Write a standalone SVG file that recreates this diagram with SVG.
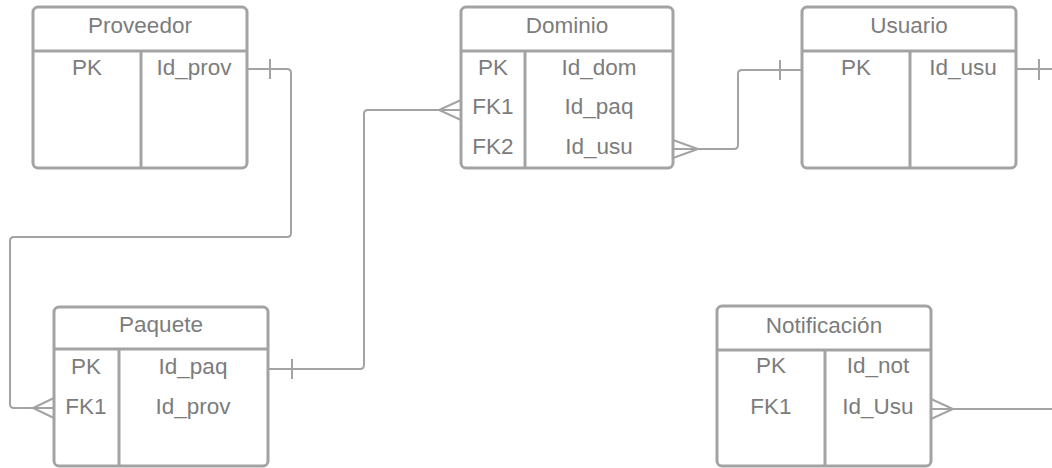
<svg xmlns="http://www.w3.org/2000/svg" width="1052" height="468" viewBox="0 0 1052 468">
<style>
.box{fill:#fff;stroke:#a3a3a3;stroke-width:3}
.ln{fill:none;stroke:#a3a3a3;stroke-width:3}
.cn{fill:none;stroke:#a3a3a3;stroke-width:2}
text{font-family:"Liberation Sans",Arial,sans-serif;font-size:22.5px;fill:#7c7c7c;text-anchor:middle}
</style>
<rect width="1052" height="468" fill="#fff"/>
<g id="connectors">
<path class="cn" d="M247,69 H287 Q291,69 291,73 V233 Q291,237 287,237 H14 Q10,237 10,241 V404 Q10,408 14,408 H54"/>
<path class="cn" d="M270,59 V79 M54,398 L33,408 L54,418"/>
<path class="cn" d="M268,369 H360 Q364,369 364,365 V114 Q364,110 368,110 H461"/>
<path class="cn" d="M292,359 V379 M461,100 L439,110 L461,120"/>
<path class="cn" d="M673,149 H734 Q738,149 738,145 V74 Q738,70 742,70 H802"/>
<path class="cn" d="M673,140 L698,149 L673,158 M780,60 V80"/>
<path class="cn" d="M1016,69 H1052 M1039,59 V80"/>
<path class="cn" d="M931,409 H1052 M931,399 L953,409 L931,419"/>
</g>
<g id="proveedor">
<rect class="box" x="33" y="7" width="214" height="161" rx="5"/>
<path class="ln" d="M33,51 H247 M141,51 V168"/>
<text x="140" y="33">Proveedor</text>
<text x="87" y="75">PK</text>
<text x="194" y="75">Id_prov</text>
</g>
<g id="dominio">
<rect class="box" x="461" y="7" width="212" height="161" rx="5"/>
<path class="ln" d="M461,51 H673 M525,51 V168"/>
<text x="567" y="33">Dominio</text>
<text x="493" y="75">PK</text>
<text x="599" y="75">Id_dom</text>
<text x="493" y="114">FK1</text>
<text x="599" y="114">Id_paq</text>
<text x="493" y="154">FK2</text>
<text x="599" y="154">Id_usu</text>
</g>
<g id="usuario">
<rect class="box" x="802" y="7" width="214" height="161" rx="5"/>
<path class="ln" d="M802,51 H1016 M910,51 V168"/>
<text x="909" y="33">Usuario</text>
<text x="856" y="75">PK</text>
<text x="963" y="75">Id_usu</text>
</g>
<g id="paquete">
<rect class="box" x="54" y="307" width="214" height="159" rx="5"/>
<path class="ln" d="M54,349 H268 M119,349 V466"/>
<text x="161" y="332">Paquete</text>
<text x="86" y="374">PK</text>
<text x="193" y="374">Id_paq</text>
<text x="86" y="414">FK1</text>
<text x="193" y="414">Id_prov</text>
</g>
<g id="notificacion">
<rect class="box" x="717" y="306" width="214" height="160" rx="5"/>
<path class="ln" d="M717,350 H931 M825,350 V466"/>
<text x="824" y="333">Notificación</text>
<text x="771" y="373">PK</text>
<text x="878" y="373">Id_not</text>
<text x="771" y="414">FK1</text>
<text x="878" y="414">Id_Usu</text>
</g>
</svg>
